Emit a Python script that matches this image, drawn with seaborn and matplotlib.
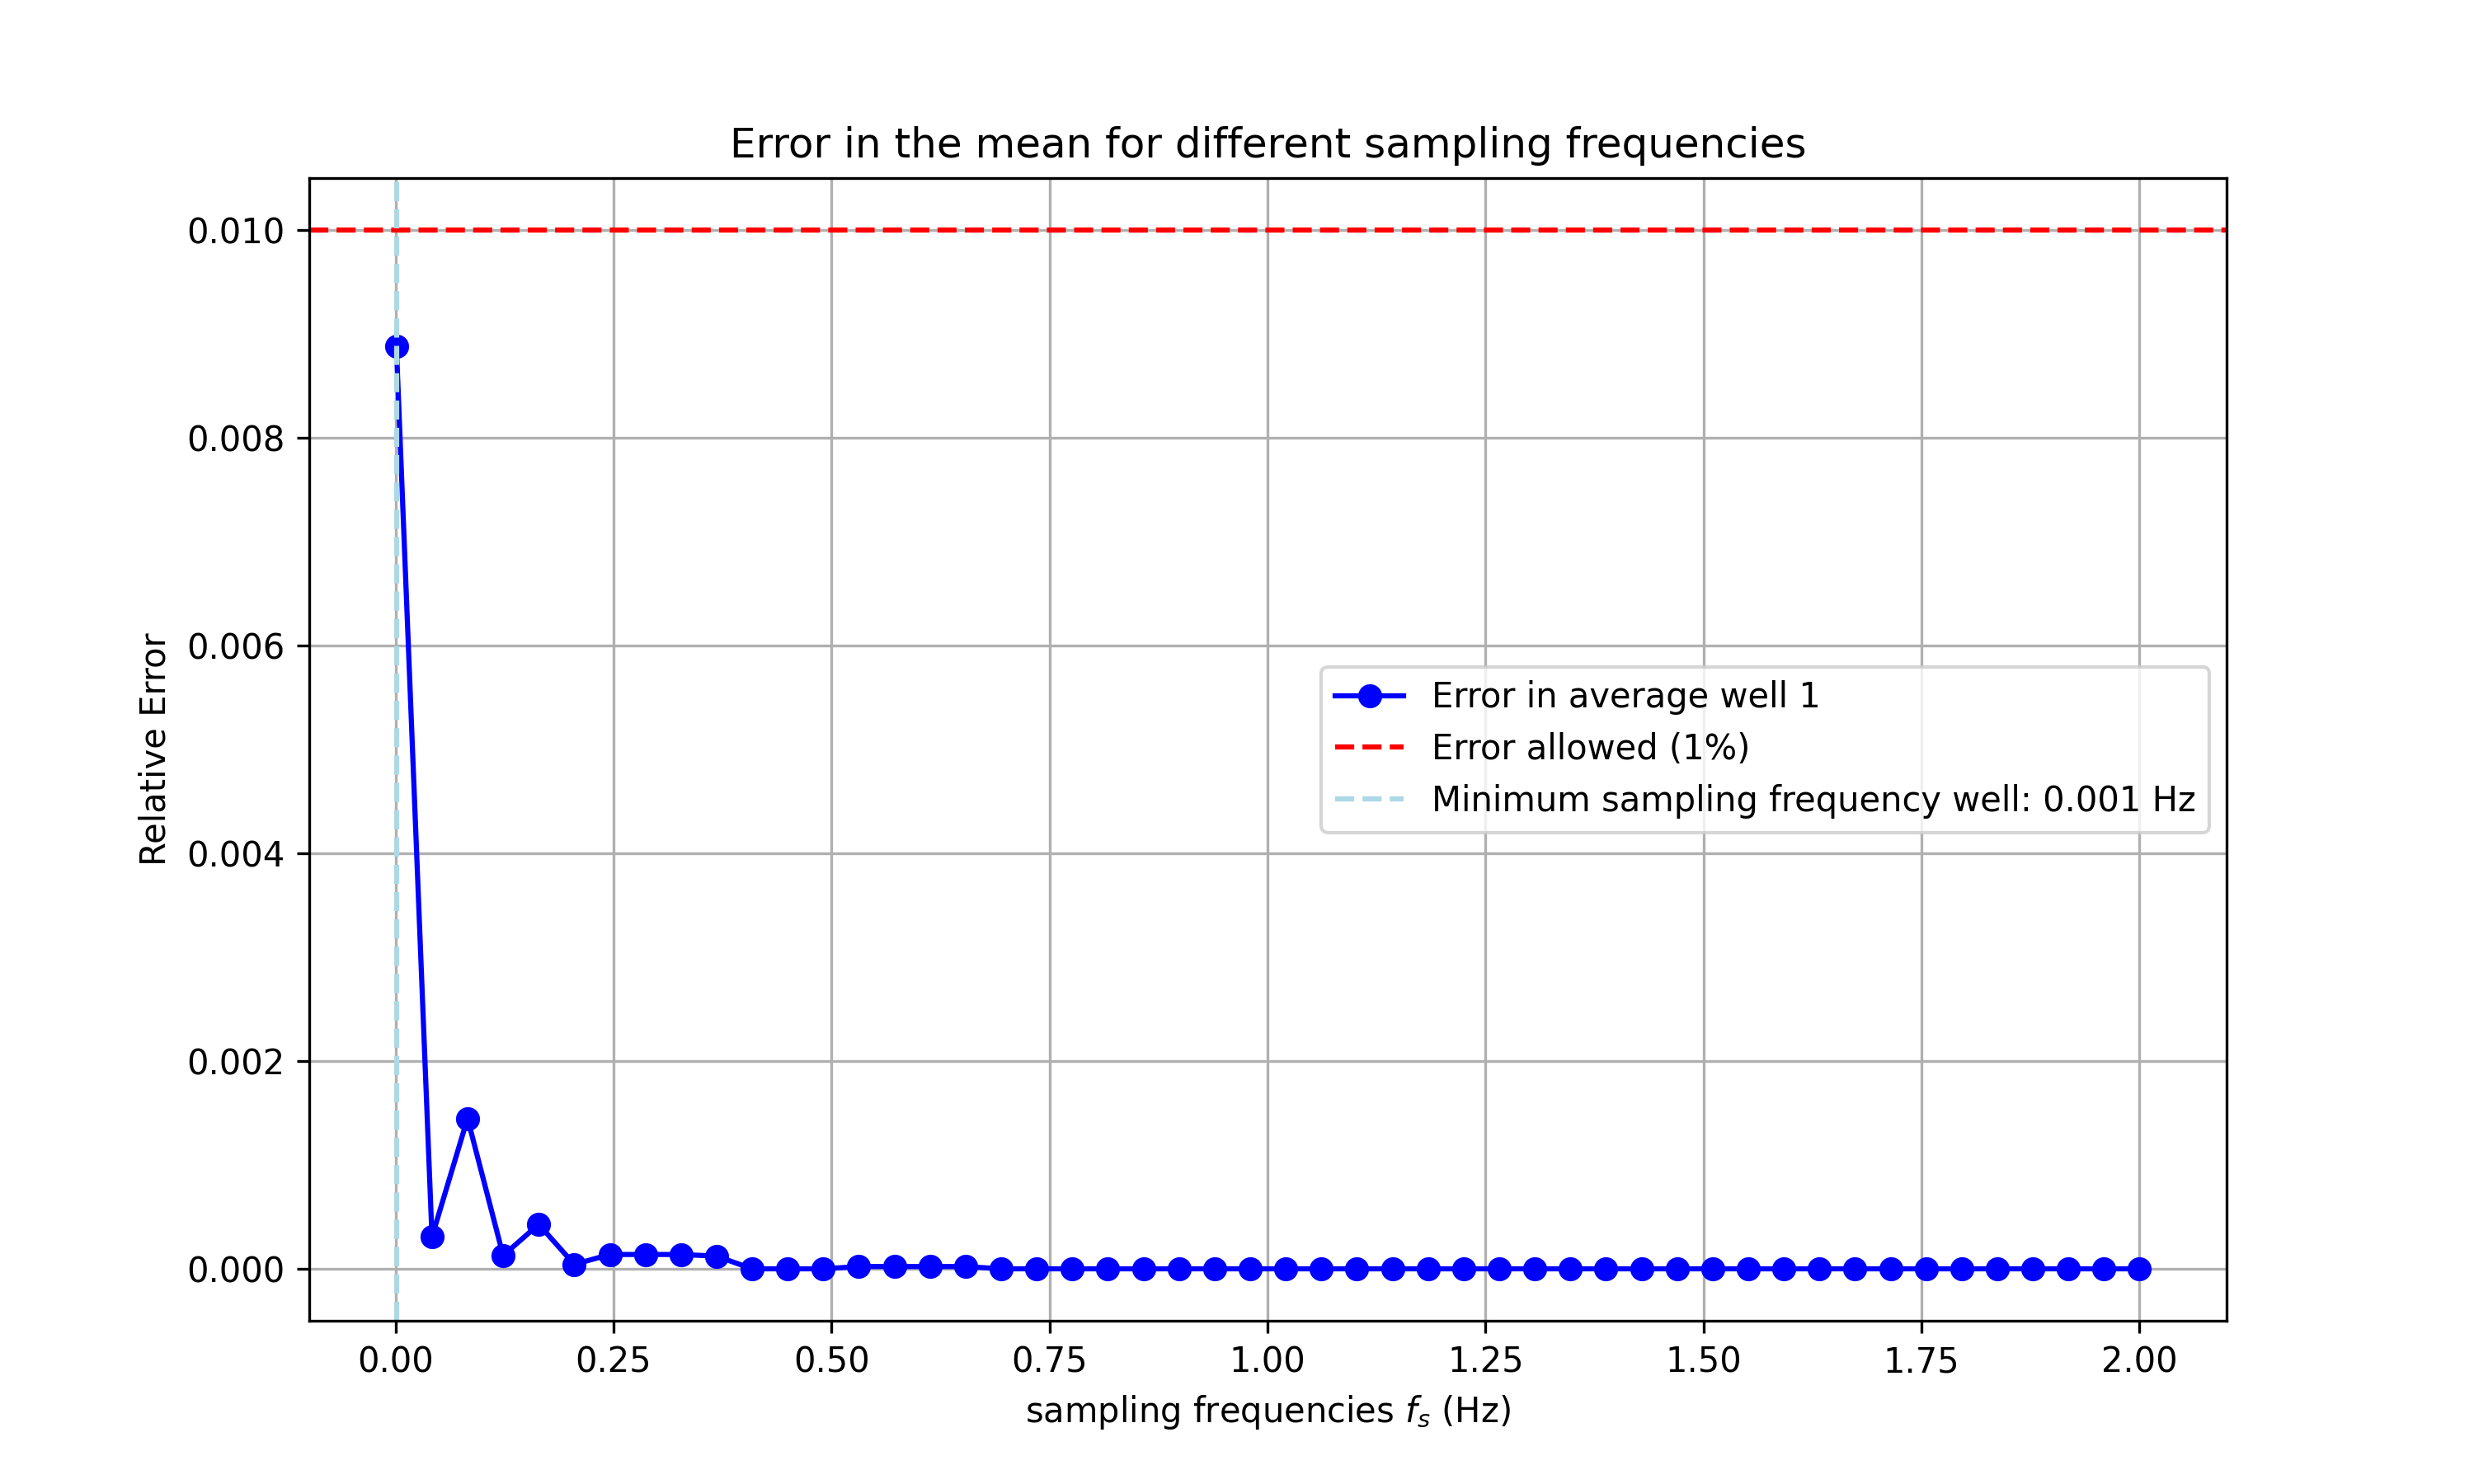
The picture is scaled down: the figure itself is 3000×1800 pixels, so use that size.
import matplotlib
matplotlib.use("Agg")
import matplotlib.pyplot as plt
import seaborn as sns
import pandas as pd

freqs = [0.001, 0.0418, 0.0826, 0.1234, 0.1642, 0.2050, 0.2458, 0.2866, 0.3274, 0.3682,
         0.4090, 0.4498, 0.4906, 0.5314, 0.5722, 0.6130, 0.6538, 0.6946, 0.7354, 0.7762,
         0.8170, 0.8578, 0.8986, 0.9394, 0.9802, 1.0210, 1.0618, 1.1026, 1.1434, 1.1842,
         1.2250, 1.2658, 1.3066, 1.3474, 1.3882, 1.4290, 1.4698, 1.5106, 1.5514, 1.5922,
         1.6330, 1.6738, 1.7146, 1.7554, 1.7962, 1.8370, 1.8778, 1.9186, 1.9594, 2.0000]

rel_error = [0.00888, 0.00031, 0.00145, 0.00013, 0.00043, 0.000045, 0.00014, 0.00014, 0.00014, 0.000124,
             0.000002, 0.000002, 0.000002, 0.000024, 0.000024, 0.000024, 0.000024, 0.000002, 0.000002, 0.000002,
             0.000002, 0.000002, 0.000002, 0.000002, 0.000002, 0.000002, 0.000002, 0.000002, 0.000002, 0.000002,
             0.000002, 0.000002, 0.000002, 0.000002, 0.000002, 0.000002, 0.000002, 0.000002, 0.000002, 0.000002,
             0.000002, 0.000002, 0.000002, 0.000002, 0.000002, 0.000002, 0.000002, 0.000002, 0.000002, 0.000002]

error_allowed = 0.01
min_freq = 0.001

df = pd.DataFrame({"fs": freqs, "err": rel_error})

fig, ax = plt.subplots(figsize=(10, 6), dpi=300)
sns.lineplot(data=df, x="fs", y="err", ax=ax, color="blue", marker="o",
             markersize=6, markeredgecolor="blue", markeredgewidth=1.0,
             linewidth=1.5, label="Error in average well 1")
ax.axhline(error_allowed, color="red", linestyle="--", linewidth=1.5, label="Error allowed (1%)")
ax.axvline(min_freq, color="lightblue", linestyle="--", linewidth=1.5,
           label=f"Minimum sampling frequency well: {min_freq} Hz")

ax.set_title("Error in the mean for different sampling frequencies")
ax.set_xlabel("sampling frequencies $f_s$ (Hz)")
ax.set_ylabel("Relative Error")
ax.grid(True)
ax.legend(loc="center right")

fig.savefig("out.png", dpi=300)
